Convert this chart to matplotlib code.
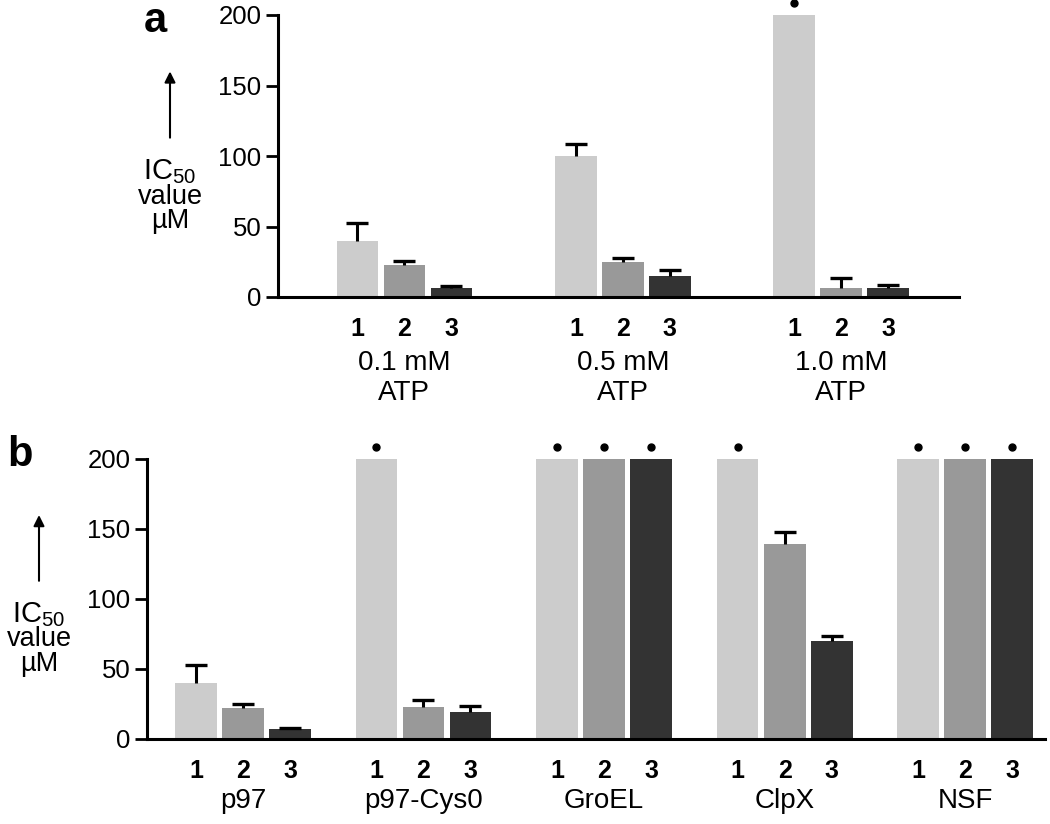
import matplotlib
matplotlib.use('Agg')
import matplotlib.pyplot as plt
import matplotlib.transforms as mtransforms
import numpy as np

plt.rcParams['font.family'] = ['Liberation Sans', 'DejaVu Sans']
plt.rcParams['mathtext.fontset'] = 'custom'
plt.rcParams['mathtext.rm'] = 'Liberation Sans'

# panel a : IC50 a differentes concentrations d'ATP
a_groups = [['0.1 mM', 'ATP'], ['0.5 mM', 'ATP'], ['1.0 mM', 'ATP']]
a_values = [[40, 22.5, 6.5], [100, 25, 15], [200, 6.5, 6.5]]
a_errors = [[12.7, 2.7, 1.5], [8.5, 2.4, 3.8], [0, 6.9, 1.9]]

# panel b : IC50 pour les differentes ATPases
b_groups = [['p97'], ['p97-Cys0'], ['GroEL'], ['ClpX'], ['NSF']]
b_values = [[40, 22.5, 6.8], [200, 22.9, 19.3], [200, 200, 200], [200, 139.3, 70], [200, 200, 200]]
b_errors = [[12.8, 2.8, 1.0], [0, 5.0, 4.3], [0, 0, 0], [0, 8.6, 3.6], [0, 0, 0]]

compounds = ['1', '2', '3']
yticks = [0, 50, 100, 150, 200]
ymax = 200

colors = ['#cccccc', '#999999', '#333333']


def draw_panel(ax, fig, groups, values, errors, group_step, xlim, label_offsets):
    values = np.array(values, dtype=float)
    errors = np.array(errors, dtype=float)
    xaxis_tr = ax.get_xaxis_transform()
    # les points au-dessus des barres saturees (> 200 uM)
    dot_tr = mtransforms.offset_copy(ax.transData, fig=fig, y=12, units='dots')

    for g in range(len(groups)):
        center = g * group_step
        for i in range(len(compounds)):
            x = center + (i - 1)
            v = values[g, i]
            e = errors[g, i]
            ax.bar(x, v, width=0.89, color=colors[i], edgecolor='none', zorder=2)
            if e > 0:
                ax.vlines(x, v, v + e, color='black', lw=2.2, zorder=3)
                ax.plot([x], [v + e], marker='_', ms=16, mew=2.4, color='black', zorder=3)
            if v >= ymax:
                ax.plot([x], [v], marker='o', ms=5, color='black', transform=dot_tr,
                        clip_on=False, zorder=3)
            ax.annotate(compounds[i], xy=(x, 0), xycoords=xaxis_tr, xytext=(0, -28),
                        textcoords='offset points', ha='center', va='baseline',
                        fontsize=18, fontweight='bold')
        for line, off in zip(groups[g], label_offsets):
            ax.annotate(line, xy=(center, 0), xycoords=xaxis_tr, xytext=(0, off),
                        textcoords='offset points', ha='center', va='baseline', fontsize=20)

    ax.set_xlim(*xlim)
    ax.set_ylim(0, ymax)
    ax.set_yticks(yticks)
    ax.set_xticks([])
    for side in ['top', 'right']:
        ax.spines[side].set_visible(False)
    for side in ['left', 'bottom']:
        ax.spines[side].set_linewidth(2.2)
    ax.tick_params(axis='y', direction='out', length=9, width=2, labelsize=18.5, pad=3)

    # label de l'axe y avec la fleche, a gauche des graduations
    tr = mtransforms.offset_copy(ax.transAxes, fig=fig, x=-108, units='dots')
    ax.annotate('', xy=(0, 0.80), xycoords=tr, xytext=(0, 0.565), textcoords=tr,
                arrowprops=dict(arrowstyle='-|>', lw=1.5, color='black',
                                mutation_scale=16, shrinkA=0, shrinkB=0))
    ax.text(0, 0.418, r'IC$_{\rm 50}$', transform=tr, ha='center', va='baseline', fontsize=21)
    ax.text(0, 0.331, 'value', transform=tr, ha='center', va='baseline', fontsize=19.5)
    ax.text(0, 0.244, 'µM', transform=tr, ha='center', va='baseline', fontsize=19.5)


fig = plt.figure(figsize=(10.5, 8.24), dpi=100)

ax_a = fig.add_axes([278 / 1050, 1 - 297 / 824, 681 / 1050, 282 / 824])
ax_b = fig.add_axes([147 / 1050, 1 - 739 / 824, 898 / 1050, 280 / 824])

a_step = 218.5 / 47
b_step = 180.5 / 47

draw_panel(ax_a, fig, a_groups, a_values, a_errors, a_step, (-2.69, 11.80), [-52.5, -74])
draw_panel(ax_b, fig, b_groups, b_values, b_errors, b_step, (-2.04, 17.06), [-50])

fig.text(144 / 1050, 1 - 32 / 824, 'a', fontsize=30, fontweight='bold', va='baseline')
fig.text(7 / 1050, 1 - 466 / 824, 'b', fontsize=30, fontweight='bold', va='baseline')

fig.savefig('out.png', dpi=100)
